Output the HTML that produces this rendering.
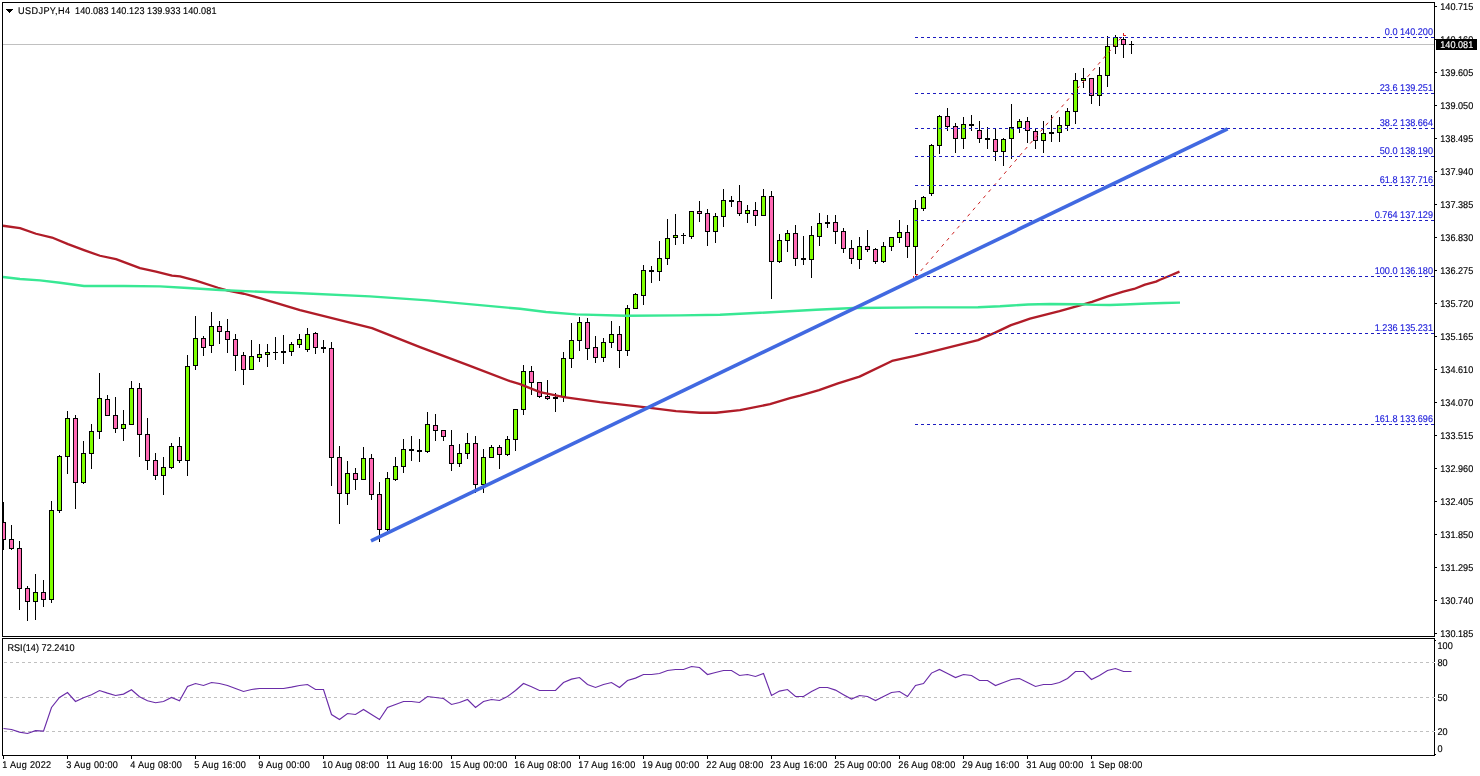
<!DOCTYPE html>
<html><head><meta charset="utf-8"><title>USDJPY H4</title>
<style>
html,body{margin:0;padding:0;background:#fff;}
body{width:1480px;height:776px;overflow:hidden;}
svg{display:block;}
text{font-family:"Liberation Sans", sans-serif;font-size:9.8px;fill:#000;text-rendering:geometricPrecision;stroke:#000;stroke-width:0.15px;}
.fib{fill:#2222dc;stroke:#2222dc;}
.ce{shape-rendering:crispEdges;}
</style></head><body>
<svg width="1480" height="776" viewBox="0 0 1480 776">
<rect x="0" y="0" width="1480" height="776" fill="#fff"/>

<g class="ce">
<rect x="3" y="44" width="1431" height="1" fill="#c0c0c0"/>
<line x1="4" y1="662.5" x2="1434" y2="662.5" stroke="#c0c0c0" stroke-width="1" stroke-dasharray="3 3"/>
<line x1="4" y1="697.5" x2="1434" y2="697.5" stroke="#c0c0c0" stroke-width="1" stroke-dasharray="3 3"/>
<line x1="4" y1="731.5" x2="1434" y2="731.5" stroke="#c0c0c0" stroke-width="1" stroke-dasharray="3 3"/>
</g>
<g class="ce">
<rect x="3" y="502" width="1" height="48" fill="#000"/>
<rect x="1" y="522" width="5" height="18" fill="#000"/>
<rect x="2" y="523" width="3" height="16" fill="#FF69B4"/>
<rect x="11" y="525" width="1" height="25" fill="#000"/>
<rect x="9" y="539" width="5" height="10" fill="#000"/>
<rect x="10" y="540" width="3" height="8" fill="#FF69B4"/>
<rect x="19" y="541" width="1" height="69" fill="#000"/>
<rect x="17" y="548" width="5" height="41" fill="#000"/>
<rect x="18" y="549" width="3" height="39" fill="#FF69B4"/>
<rect x="27" y="586" width="1" height="35" fill="#000"/>
<rect x="25" y="588" width="5" height="14" fill="#000"/>
<rect x="26" y="589" width="3" height="12" fill="#FF69B4"/>
<rect x="35" y="574" width="1" height="46" fill="#000"/>
<rect x="33" y="592" width="5" height="10" fill="#000"/>
<rect x="34" y="593" width="3" height="8" fill="#7FFF00"/>
<rect x="43" y="580" width="1" height="27" fill="#000"/>
<rect x="41" y="592" width="5" height="8" fill="#000"/>
<rect x="42" y="593" width="3" height="6" fill="#FF69B4"/>
<rect x="51" y="501" width="1" height="102" fill="#000"/>
<rect x="49" y="510" width="5" height="90" fill="#000"/>
<rect x="50" y="511" width="3" height="88" fill="#7FFF00"/>
<rect x="59" y="455" width="1" height="58" fill="#000"/>
<rect x="57" y="456" width="5" height="55" fill="#000"/>
<rect x="58" y="457" width="3" height="53" fill="#7FFF00"/>
<rect x="67" y="411" width="1" height="63" fill="#000"/>
<rect x="65" y="418" width="5" height="39" fill="#000"/>
<rect x="66" y="419" width="3" height="37" fill="#7FFF00"/>
<rect x="75" y="415" width="1" height="94" fill="#000"/>
<rect x="73" y="418" width="5" height="65" fill="#000"/>
<rect x="74" y="419" width="3" height="63" fill="#FF69B4"/>
<rect x="83" y="441" width="1" height="43" fill="#000"/>
<rect x="81" y="453" width="5" height="30" fill="#000"/>
<rect x="82" y="454" width="3" height="28" fill="#7FFF00"/>
<rect x="91" y="424" width="1" height="45" fill="#000"/>
<rect x="89" y="431" width="5" height="23" fill="#000"/>
<rect x="90" y="432" width="3" height="21" fill="#7FFF00"/>
<rect x="99" y="373" width="1" height="66" fill="#000"/>
<rect x="97" y="398" width="5" height="34" fill="#000"/>
<rect x="98" y="399" width="3" height="32" fill="#7FFF00"/>
<rect x="107" y="395" width="1" height="21" fill="#000"/>
<rect x="105" y="399" width="5" height="17" fill="#000"/>
<rect x="106" y="400" width="3" height="15" fill="#FF69B4"/>
<rect x="115" y="397" width="1" height="36" fill="#000"/>
<rect x="113" y="415" width="5" height="14" fill="#000"/>
<rect x="114" y="416" width="3" height="12" fill="#FF69B4"/>
<rect x="123" y="410" width="1" height="31" fill="#000"/>
<rect x="121" y="424" width="5" height="5" fill="#000"/>
<rect x="122" y="425" width="3" height="3" fill="#7FFF00"/>
<rect x="131" y="381" width="1" height="44" fill="#000"/>
<rect x="129" y="388" width="5" height="37" fill="#000"/>
<rect x="130" y="389" width="3" height="35" fill="#7FFF00"/>
<rect x="139" y="383" width="1" height="74" fill="#000"/>
<rect x="137" y="388" width="5" height="47" fill="#000"/>
<rect x="138" y="389" width="3" height="45" fill="#FF69B4"/>
<rect x="147" y="418" width="1" height="52" fill="#000"/>
<rect x="145" y="434" width="5" height="27" fill="#000"/>
<rect x="146" y="435" width="3" height="25" fill="#FF69B4"/>
<rect x="155" y="453" width="1" height="27" fill="#000"/>
<rect x="153" y="460" width="5" height="16" fill="#000"/>
<rect x="154" y="461" width="3" height="14" fill="#FF69B4"/>
<rect x="163" y="457" width="1" height="38" fill="#000"/>
<rect x="161" y="467" width="5" height="9" fill="#000"/>
<rect x="162" y="468" width="3" height="7" fill="#7FFF00"/>
<rect x="171" y="443" width="1" height="26" fill="#000"/>
<rect x="169" y="446" width="5" height="22" fill="#000"/>
<rect x="170" y="447" width="3" height="20" fill="#7FFF00"/>
<rect x="179" y="437" width="1" height="26" fill="#000"/>
<rect x="177" y="446" width="5" height="15" fill="#000"/>
<rect x="178" y="447" width="3" height="13" fill="#FF69B4"/>
<rect x="187" y="355" width="1" height="121" fill="#000"/>
<rect x="185" y="366" width="5" height="95" fill="#000"/>
<rect x="186" y="367" width="3" height="93" fill="#7FFF00"/>
<rect x="195" y="316" width="1" height="54" fill="#000"/>
<rect x="193" y="338" width="5" height="28" fill="#000"/>
<rect x="194" y="339" width="3" height="26" fill="#7FFF00"/>
<rect x="203" y="336" width="1" height="20" fill="#000"/>
<rect x="201" y="338" width="5" height="10" fill="#000"/>
<rect x="202" y="339" width="3" height="8" fill="#FF69B4"/>
<rect x="211" y="312" width="1" height="41" fill="#000"/>
<rect x="209" y="326" width="5" height="20" fill="#000"/>
<rect x="210" y="327" width="3" height="18" fill="#7FFF00"/>
<rect x="219" y="321" width="1" height="23" fill="#000"/>
<rect x="217" y="326" width="5" height="6" fill="#000"/>
<rect x="218" y="327" width="3" height="4" fill="#FF69B4"/>
<rect x="227" y="319" width="1" height="34" fill="#000"/>
<rect x="225" y="331" width="5" height="9" fill="#000"/>
<rect x="226" y="332" width="3" height="7" fill="#FF69B4"/>
<rect x="235" y="334" width="1" height="37" fill="#000"/>
<rect x="233" y="339" width="5" height="17" fill="#000"/>
<rect x="234" y="340" width="3" height="15" fill="#FF69B4"/>
<rect x="243" y="352" width="1" height="33" fill="#000"/>
<rect x="241" y="355" width="5" height="15" fill="#000"/>
<rect x="242" y="356" width="3" height="13" fill="#FF69B4"/>
<rect x="251" y="340" width="1" height="30" fill="#000"/>
<rect x="249" y="356" width="5" height="14" fill="#000"/>
<rect x="250" y="357" width="3" height="12" fill="#7FFF00"/>
<rect x="259" y="344" width="1" height="18" fill="#000"/>
<rect x="257" y="354" width="5" height="4" fill="#000"/>
<rect x="258" y="355" width="3" height="2" fill="#7FFF00"/>
<rect x="267" y="344" width="1" height="23" fill="#000"/>
<rect x="265" y="352" width="5" height="3" fill="#000"/>
<rect x="266" y="353" width="3" height="1" fill="#7FFF00"/>
<rect x="275" y="337" width="1" height="23" fill="#000"/>
<rect x="273" y="352" width="5" height="1" fill="#000"/>
<rect x="283" y="335" width="1" height="29" fill="#000"/>
<rect x="281" y="351" width="5" height="2" fill="#000"/>
<rect x="291" y="342" width="1" height="14" fill="#000"/>
<rect x="289" y="344" width="5" height="8" fill="#000"/>
<rect x="290" y="345" width="3" height="6" fill="#7FFF00"/>
<rect x="299" y="334" width="1" height="14" fill="#000"/>
<rect x="297" y="339" width="5" height="6" fill="#000"/>
<rect x="298" y="340" width="3" height="4" fill="#7FFF00"/>
<rect x="307" y="328" width="1" height="24" fill="#000"/>
<rect x="305" y="334" width="5" height="16" fill="#000"/>
<rect x="306" y="335" width="3" height="14" fill="#7FFF00"/>
<rect x="315" y="332" width="1" height="22" fill="#000"/>
<rect x="313" y="333" width="5" height="15" fill="#000"/>
<rect x="314" y="334" width="3" height="13" fill="#FF69B4"/>
<rect x="323" y="340" width="1" height="13" fill="#000"/>
<rect x="321" y="347" width="5" height="2" fill="#000"/>
<rect x="331" y="342" width="1" height="144" fill="#000"/>
<rect x="329" y="348" width="5" height="110" fill="#000"/>
<rect x="330" y="349" width="3" height="108" fill="#FF69B4"/>
<rect x="339" y="446" width="1" height="78" fill="#000"/>
<rect x="337" y="457" width="5" height="37" fill="#000"/>
<rect x="338" y="458" width="3" height="35" fill="#FF69B4"/>
<rect x="347" y="461" width="1" height="44" fill="#000"/>
<rect x="345" y="473" width="5" height="21" fill="#000"/>
<rect x="346" y="474" width="3" height="19" fill="#7FFF00"/>
<rect x="355" y="468" width="1" height="22" fill="#000"/>
<rect x="353" y="473" width="5" height="7" fill="#000"/>
<rect x="354" y="474" width="3" height="5" fill="#FF69B4"/>
<rect x="363" y="447" width="1" height="33" fill="#000"/>
<rect x="361" y="458" width="5" height="22" fill="#000"/>
<rect x="362" y="459" width="3" height="20" fill="#7FFF00"/>
<rect x="371" y="454" width="1" height="46" fill="#000"/>
<rect x="369" y="458" width="5" height="37" fill="#000"/>
<rect x="370" y="459" width="3" height="35" fill="#FF69B4"/>
<rect x="379" y="482" width="1" height="60" fill="#000"/>
<rect x="377" y="494" width="5" height="36" fill="#000"/>
<rect x="378" y="495" width="3" height="34" fill="#FF69B4"/>
<rect x="387" y="472" width="1" height="59" fill="#000"/>
<rect x="385" y="478" width="5" height="52" fill="#000"/>
<rect x="386" y="479" width="3" height="50" fill="#7FFF00"/>
<rect x="395" y="457" width="1" height="24" fill="#000"/>
<rect x="393" y="466" width="5" height="14" fill="#000"/>
<rect x="394" y="467" width="3" height="12" fill="#7FFF00"/>
<rect x="403" y="439" width="1" height="34" fill="#000"/>
<rect x="401" y="449" width="5" height="18" fill="#000"/>
<rect x="402" y="450" width="3" height="16" fill="#7FFF00"/>
<rect x="411" y="436" width="1" height="25" fill="#000"/>
<rect x="409" y="449" width="5" height="2" fill="#000"/>
<rect x="419" y="439" width="1" height="23" fill="#000"/>
<rect x="417" y="450" width="5" height="2" fill="#000"/>
<rect x="427" y="412" width="1" height="41" fill="#000"/>
<rect x="425" y="424" width="5" height="28" fill="#000"/>
<rect x="426" y="425" width="3" height="26" fill="#7FFF00"/>
<rect x="435" y="414" width="1" height="27" fill="#000"/>
<rect x="433" y="425" width="5" height="6" fill="#000"/>
<rect x="434" y="426" width="3" height="4" fill="#FF69B4"/>
<rect x="443" y="430" width="1" height="11" fill="#000"/>
<rect x="441" y="430" width="5" height="7" fill="#000"/>
<rect x="442" y="431" width="3" height="5" fill="#FF69B4"/>
<rect x="451" y="430" width="1" height="41" fill="#000"/>
<rect x="449" y="445" width="5" height="19" fill="#000"/>
<rect x="450" y="446" width="3" height="17" fill="#FF69B4"/>
<rect x="459" y="444" width="1" height="23" fill="#000"/>
<rect x="457" y="453" width="5" height="11" fill="#000"/>
<rect x="458" y="454" width="3" height="9" fill="#7FFF00"/>
<rect x="467" y="433" width="1" height="26" fill="#000"/>
<rect x="465" y="443" width="5" height="11" fill="#000"/>
<rect x="466" y="444" width="3" height="9" fill="#7FFF00"/>
<rect x="475" y="436" width="1" height="57" fill="#000"/>
<rect x="473" y="443" width="5" height="42" fill="#000"/>
<rect x="474" y="444" width="3" height="40" fill="#FF69B4"/>
<rect x="483" y="449" width="1" height="44" fill="#000"/>
<rect x="481" y="457" width="5" height="28" fill="#000"/>
<rect x="482" y="458" width="3" height="26" fill="#7FFF00"/>
<rect x="491" y="445" width="1" height="13" fill="#000"/>
<rect x="489" y="447" width="5" height="11" fill="#000"/>
<rect x="490" y="448" width="3" height="9" fill="#7FFF00"/>
<rect x="499" y="445" width="1" height="24" fill="#000"/>
<rect x="497" y="447" width="5" height="8" fill="#000"/>
<rect x="498" y="448" width="3" height="6" fill="#FF69B4"/>
<rect x="507" y="436" width="1" height="20" fill="#000"/>
<rect x="505" y="439" width="5" height="16" fill="#000"/>
<rect x="506" y="440" width="3" height="14" fill="#7FFF00"/>
<rect x="515" y="409" width="1" height="42" fill="#000"/>
<rect x="513" y="409" width="5" height="31" fill="#000"/>
<rect x="514" y="410" width="3" height="29" fill="#7FFF00"/>
<rect x="523" y="365" width="1" height="50" fill="#000"/>
<rect x="521" y="371" width="5" height="39" fill="#000"/>
<rect x="522" y="372" width="3" height="37" fill="#7FFF00"/>
<rect x="531" y="366" width="1" height="29" fill="#000"/>
<rect x="529" y="371" width="5" height="12" fill="#000"/>
<rect x="530" y="372" width="3" height="10" fill="#FF69B4"/>
<rect x="539" y="382" width="1" height="16" fill="#000"/>
<rect x="537" y="382" width="5" height="15" fill="#000"/>
<rect x="538" y="383" width="3" height="13" fill="#FF69B4"/>
<rect x="547" y="380" width="1" height="20" fill="#000"/>
<rect x="545" y="396" width="5" height="3" fill="#000"/>
<rect x="546" y="397" width="3" height="1" fill="#FF69B4"/>
<rect x="555" y="393" width="1" height="19" fill="#000"/>
<rect x="553" y="397" width="5" height="2" fill="#000"/>
<rect x="563" y="352" width="1" height="50" fill="#000"/>
<rect x="561" y="358" width="5" height="39" fill="#000"/>
<rect x="562" y="359" width="3" height="37" fill="#7FFF00"/>
<rect x="571" y="323" width="1" height="45" fill="#000"/>
<rect x="569" y="340" width="5" height="19" fill="#000"/>
<rect x="570" y="341" width="3" height="17" fill="#7FFF00"/>
<rect x="579" y="317" width="1" height="34" fill="#000"/>
<rect x="577" y="322" width="5" height="19" fill="#000"/>
<rect x="578" y="323" width="3" height="17" fill="#7FFF00"/>
<rect x="587" y="318" width="1" height="42" fill="#000"/>
<rect x="585" y="322" width="5" height="27" fill="#000"/>
<rect x="586" y="323" width="3" height="25" fill="#FF69B4"/>
<rect x="595" y="336" width="1" height="27" fill="#000"/>
<rect x="593" y="347" width="5" height="11" fill="#000"/>
<rect x="594" y="348" width="3" height="9" fill="#FF69B4"/>
<rect x="603" y="338" width="1" height="24" fill="#000"/>
<rect x="601" y="342" width="5" height="16" fill="#000"/>
<rect x="602" y="343" width="3" height="14" fill="#7FFF00"/>
<rect x="611" y="321" width="1" height="27" fill="#000"/>
<rect x="609" y="334" width="5" height="9" fill="#000"/>
<rect x="610" y="335" width="3" height="7" fill="#7FFF00"/>
<rect x="619" y="326" width="1" height="42" fill="#000"/>
<rect x="617" y="334" width="5" height="17" fill="#000"/>
<rect x="618" y="335" width="3" height="15" fill="#FF69B4"/>
<rect x="627" y="305" width="1" height="51" fill="#000"/>
<rect x="625" y="308" width="5" height="43" fill="#000"/>
<rect x="626" y="309" width="3" height="41" fill="#7FFF00"/>
<rect x="635" y="293" width="1" height="16" fill="#000"/>
<rect x="633" y="294" width="5" height="15" fill="#000"/>
<rect x="634" y="295" width="3" height="13" fill="#7FFF00"/>
<rect x="643" y="265" width="1" height="40" fill="#000"/>
<rect x="641" y="270" width="5" height="26" fill="#000"/>
<rect x="642" y="271" width="3" height="24" fill="#7FFF00"/>
<rect x="651" y="266" width="1" height="17" fill="#000"/>
<rect x="649" y="270" width="5" height="2" fill="#000"/>
<rect x="659" y="241" width="1" height="40" fill="#000"/>
<rect x="657" y="258" width="5" height="14" fill="#000"/>
<rect x="658" y="259" width="3" height="12" fill="#7FFF00"/>
<rect x="667" y="219" width="1" height="46" fill="#000"/>
<rect x="665" y="238" width="5" height="21" fill="#000"/>
<rect x="666" y="239" width="3" height="19" fill="#7FFF00"/>
<rect x="675" y="214" width="1" height="31" fill="#000"/>
<rect x="673" y="235" width="5" height="3" fill="#000"/>
<rect x="674" y="236" width="3" height="1" fill="#7FFF00"/>
<rect x="683" y="233" width="1" height="11" fill="#000"/>
<rect x="681" y="235" width="5" height="1" fill="#000"/>
<rect x="691" y="211" width="1" height="28" fill="#000"/>
<rect x="689" y="211" width="5" height="26" fill="#000"/>
<rect x="690" y="212" width="3" height="24" fill="#7FFF00"/>
<rect x="699" y="201" width="1" height="21" fill="#000"/>
<rect x="697" y="211" width="5" height="3" fill="#000"/>
<rect x="698" y="212" width="3" height="1" fill="#FF69B4"/>
<rect x="707" y="209" width="1" height="37" fill="#000"/>
<rect x="705" y="213" width="5" height="19" fill="#000"/>
<rect x="706" y="214" width="3" height="17" fill="#FF69B4"/>
<rect x="715" y="213" width="1" height="30" fill="#000"/>
<rect x="713" y="216" width="5" height="16" fill="#000"/>
<rect x="714" y="217" width="3" height="14" fill="#7FFF00"/>
<rect x="723" y="189" width="1" height="38" fill="#000"/>
<rect x="721" y="200" width="5" height="17" fill="#000"/>
<rect x="722" y="201" width="3" height="15" fill="#7FFF00"/>
<rect x="731" y="196" width="1" height="11" fill="#000"/>
<rect x="729" y="200" width="5" height="2" fill="#000"/>
<rect x="739" y="185" width="1" height="31" fill="#000"/>
<rect x="737" y="201" width="5" height="13" fill="#000"/>
<rect x="738" y="202" width="3" height="11" fill="#FF69B4"/>
<rect x="747" y="205" width="1" height="18" fill="#000"/>
<rect x="745" y="210" width="5" height="4" fill="#000"/>
<rect x="746" y="211" width="3" height="2" fill="#7FFF00"/>
<rect x="755" y="202" width="1" height="24" fill="#000"/>
<rect x="753" y="210" width="5" height="6" fill="#000"/>
<rect x="754" y="211" width="3" height="4" fill="#FF69B4"/>
<rect x="763" y="189" width="1" height="27" fill="#000"/>
<rect x="761" y="196" width="5" height="20" fill="#000"/>
<rect x="762" y="197" width="3" height="18" fill="#7FFF00"/>
<rect x="771" y="191" width="1" height="108" fill="#000"/>
<rect x="769" y="196" width="5" height="66" fill="#000"/>
<rect x="770" y="197" width="3" height="64" fill="#FF69B4"/>
<rect x="779" y="234" width="1" height="29" fill="#000"/>
<rect x="777" y="240" width="5" height="22" fill="#000"/>
<rect x="778" y="241" width="3" height="20" fill="#7FFF00"/>
<rect x="787" y="230" width="1" height="22" fill="#000"/>
<rect x="785" y="233" width="5" height="8" fill="#000"/>
<rect x="786" y="234" width="3" height="6" fill="#7FFF00"/>
<rect x="795" y="225" width="1" height="41" fill="#000"/>
<rect x="793" y="233" width="5" height="26" fill="#000"/>
<rect x="794" y="234" width="3" height="24" fill="#FF69B4"/>
<rect x="803" y="236" width="1" height="29" fill="#000"/>
<rect x="801" y="258" width="5" height="2" fill="#000"/>
<rect x="811" y="226" width="1" height="52" fill="#000"/>
<rect x="809" y="235" width="5" height="25" fill="#000"/>
<rect x="810" y="236" width="3" height="23" fill="#7FFF00"/>
<rect x="819" y="213" width="1" height="33" fill="#000"/>
<rect x="817" y="223" width="5" height="14" fill="#000"/>
<rect x="818" y="224" width="3" height="12" fill="#7FFF00"/>
<rect x="827" y="215" width="1" height="13" fill="#000"/>
<rect x="825" y="222" width="5" height="2" fill="#000"/>
<rect x="835" y="215" width="1" height="29" fill="#000"/>
<rect x="833" y="222" width="5" height="10" fill="#000"/>
<rect x="834" y="223" width="3" height="8" fill="#FF69B4"/>
<rect x="843" y="228" width="1" height="25" fill="#000"/>
<rect x="841" y="231" width="5" height="18" fill="#000"/>
<rect x="842" y="232" width="3" height="16" fill="#FF69B4"/>
<rect x="851" y="240" width="1" height="24" fill="#000"/>
<rect x="849" y="248" width="5" height="11" fill="#000"/>
<rect x="850" y="249" width="3" height="9" fill="#FF69B4"/>
<rect x="859" y="237" width="1" height="32" fill="#000"/>
<rect x="857" y="246" width="5" height="14" fill="#000"/>
<rect x="858" y="247" width="3" height="12" fill="#7FFF00"/>
<rect x="867" y="230" width="1" height="22" fill="#000"/>
<rect x="865" y="246" width="5" height="4" fill="#000"/>
<rect x="866" y="247" width="3" height="2" fill="#FF69B4"/>
<rect x="875" y="248" width="1" height="16" fill="#000"/>
<rect x="873" y="249" width="5" height="13" fill="#000"/>
<rect x="874" y="250" width="3" height="11" fill="#FF69B4"/>
<rect x="883" y="242" width="1" height="21" fill="#000"/>
<rect x="881" y="246" width="5" height="16" fill="#000"/>
<rect x="882" y="247" width="3" height="14" fill="#7FFF00"/>
<rect x="891" y="237" width="1" height="14" fill="#000"/>
<rect x="889" y="237" width="5" height="10" fill="#000"/>
<rect x="890" y="238" width="3" height="8" fill="#7FFF00"/>
<rect x="899" y="220" width="1" height="23" fill="#000"/>
<rect x="897" y="232" width="5" height="6" fill="#000"/>
<rect x="898" y="233" width="3" height="4" fill="#7FFF00"/>
<rect x="907" y="225" width="1" height="33" fill="#000"/>
<rect x="905" y="232" width="5" height="15" fill="#000"/>
<rect x="906" y="233" width="3" height="13" fill="#FF69B4"/>
<rect x="915" y="200" width="1" height="74" fill="#000"/>
<rect x="913" y="208" width="5" height="39" fill="#000"/>
<rect x="914" y="209" width="3" height="37" fill="#7FFF00"/>
<rect x="923" y="196" width="1" height="15" fill="#000"/>
<rect x="921" y="197" width="5" height="12" fill="#000"/>
<rect x="922" y="198" width="3" height="10" fill="#7FFF00"/>
<rect x="931" y="144" width="1" height="52" fill="#000"/>
<rect x="929" y="145" width="5" height="49" fill="#000"/>
<rect x="930" y="146" width="3" height="47" fill="#7FFF00"/>
<rect x="939" y="115" width="1" height="39" fill="#000"/>
<rect x="937" y="116" width="5" height="30" fill="#000"/>
<rect x="938" y="117" width="3" height="28" fill="#7FFF00"/>
<rect x="947" y="108" width="1" height="23" fill="#000"/>
<rect x="945" y="116" width="5" height="11" fill="#000"/>
<rect x="946" y="117" width="3" height="9" fill="#FF69B4"/>
<rect x="955" y="123" width="1" height="30" fill="#000"/>
<rect x="953" y="126" width="5" height="13" fill="#000"/>
<rect x="954" y="127" width="3" height="11" fill="#FF69B4"/>
<rect x="963" y="117" width="1" height="32" fill="#000"/>
<rect x="961" y="124" width="5" height="15" fill="#000"/>
<rect x="962" y="125" width="3" height="13" fill="#7FFF00"/>
<rect x="971" y="115" width="1" height="16" fill="#000"/>
<rect x="969" y="124" width="5" height="2" fill="#000"/>
<rect x="979" y="121" width="1" height="22" fill="#000"/>
<rect x="977" y="130" width="5" height="9" fill="#000"/>
<rect x="978" y="131" width="3" height="7" fill="#FF69B4"/>
<rect x="987" y="127" width="1" height="22" fill="#000"/>
<rect x="985" y="138" width="5" height="2" fill="#000"/>
<rect x="995" y="128" width="1" height="33" fill="#000"/>
<rect x="993" y="139" width="5" height="13" fill="#000"/>
<rect x="994" y="140" width="3" height="11" fill="#FF69B4"/>
<rect x="1003" y="138" width="1" height="28" fill="#000"/>
<rect x="1001" y="139" width="5" height="13" fill="#000"/>
<rect x="1002" y="140" width="3" height="11" fill="#7FFF00"/>
<rect x="1011" y="104" width="1" height="55" fill="#000"/>
<rect x="1009" y="127" width="5" height="12" fill="#000"/>
<rect x="1010" y="128" width="3" height="10" fill="#7FFF00"/>
<rect x="1019" y="119" width="1" height="14" fill="#000"/>
<rect x="1017" y="121" width="5" height="7" fill="#000"/>
<rect x="1018" y="122" width="3" height="5" fill="#7FFF00"/>
<rect x="1027" y="117" width="1" height="26" fill="#000"/>
<rect x="1025" y="121" width="5" height="10" fill="#000"/>
<rect x="1026" y="122" width="3" height="8" fill="#FF69B4"/>
<rect x="1035" y="129" width="1" height="20" fill="#000"/>
<rect x="1033" y="131" width="5" height="10" fill="#000"/>
<rect x="1034" y="132" width="3" height="8" fill="#FF69B4"/>
<rect x="1043" y="121" width="1" height="32" fill="#000"/>
<rect x="1041" y="133" width="5" height="8" fill="#000"/>
<rect x="1042" y="134" width="3" height="6" fill="#7FFF00"/>
<rect x="1051" y="115" width="1" height="27" fill="#000"/>
<rect x="1049" y="132" width="5" height="2" fill="#000"/>
<rect x="1059" y="117" width="1" height="25" fill="#000"/>
<rect x="1057" y="125" width="5" height="8" fill="#000"/>
<rect x="1058" y="126" width="3" height="6" fill="#7FFF00"/>
<rect x="1067" y="108" width="1" height="23" fill="#000"/>
<rect x="1065" y="111" width="5" height="15" fill="#000"/>
<rect x="1066" y="112" width="3" height="13" fill="#7FFF00"/>
<rect x="1075" y="73" width="1" height="51" fill="#000"/>
<rect x="1073" y="80" width="5" height="32" fill="#000"/>
<rect x="1074" y="81" width="3" height="30" fill="#7FFF00"/>
<rect x="1083" y="68" width="1" height="20" fill="#000"/>
<rect x="1081" y="78" width="5" height="3" fill="#000"/>
<rect x="1082" y="79" width="3" height="1" fill="#7FFF00"/>
<rect x="1091" y="78" width="1" height="26" fill="#000"/>
<rect x="1089" y="78" width="5" height="18" fill="#000"/>
<rect x="1090" y="79" width="3" height="16" fill="#FF69B4"/>
<rect x="1099" y="67" width="1" height="39" fill="#000"/>
<rect x="1097" y="75" width="5" height="21" fill="#000"/>
<rect x="1098" y="76" width="3" height="19" fill="#7FFF00"/>
<rect x="1107" y="36" width="1" height="51" fill="#000"/>
<rect x="1105" y="46" width="5" height="30" fill="#000"/>
<rect x="1106" y="47" width="3" height="28" fill="#7FFF00"/>
<rect x="1115" y="35" width="1" height="19" fill="#000"/>
<rect x="1113" y="37" width="5" height="10" fill="#000"/>
<rect x="1114" y="38" width="3" height="8" fill="#7FFF00"/>
<rect x="1123" y="37" width="1" height="21" fill="#000"/>
<rect x="1121" y="39" width="5" height="6" fill="#000"/>
<rect x="1122" y="40" width="3" height="4" fill="#FF69B4"/>
<rect x="1131" y="41" width="1" height="13" fill="#000"/>
<rect x="1129" y="44" width="5" height="1" fill="#000"/>
</g>
<polyline points="3,225.75 20,228.15 36,233.75 52,237.55 68,244.15 84,250.15 100,255.75 116,259.15 140,268.15 156,271.54999999999995 172,275.54999999999995 180,276.34999999999997 196,280.54999999999995 218,287.75 228,290.54999999999995 244,293.75 260,298.15 280,304.15 300,310.15 372,328.15 420,347.15 468,365.15 510,381.15 520,384.15 540,392.15 564,397.15 600,402.15 644,407.15 676,411.15 700,412.75 716,412.75 740,410.15 770,404.15 790,398.15 800,395.54999999999995 819,390.15 838,383.34999999999997 859.5,376.65 892,360.95 916,355.54999999999995 951,346.95 978,340.15 994.6,332.84999999999997 1011,325.15 1030,318.54999999999995 1059.5,311.15 1081,305.15 1092,301.95 1107,296.54999999999995 1123.3,291.65 1134,288.95 1145,284.65 1156,281.65 1160,279.75 1168,276.45 1179.5,271.65" fill="none" stroke="#b01c28" stroke-width="2.3" stroke-linejoin="round"/>
<polyline points="3,277.0 20,279.0 40,280.4 60,282.79999999999995 84,286.0 124,286.0 160,286.4 188,288.0 220,290.0 260,291.79999999999995 296,293.0 370,296.4 428,300.4 520,308.79999999999995 546,312.0 576,314.4 626,315.79999999999995 680,315.4 720,314.79999999999995 760,312.79999999999995 816,309.79999999999995 854,308.0 924,307.4 978,307.2 1000,306.29999999999995 1012,305.5 1028,304.5 1050,304.0 1080,304.2 1095,304.9 1110,305.0 1124,304.5 1136,304.0 1148,303.5 1164,303.0 1180,302.59999999999997" fill="none" stroke="#38e894" stroke-width="2.4" stroke-linejoin="round"/>
<line x1="915.5" y1="277" x2="1123.5" y2="35" stroke="#cc2020" stroke-width="1" stroke-dasharray="3.4 4.6"/>
<g class="ce">
<line x1="915" y1="37.5" x2="1434" y2="37.5" stroke="#1c1cc0" stroke-width="1" stroke-dasharray="3 3"/>
<line x1="915" y1="93.5" x2="1434" y2="93.5" stroke="#1c1cc0" stroke-width="1" stroke-dasharray="3 3"/>
<line x1="915" y1="128.5" x2="1434" y2="128.5" stroke="#1c1cc0" stroke-width="1" stroke-dasharray="3 3"/>
<line x1="915" y1="156.5" x2="1434" y2="156.5" stroke="#1c1cc0" stroke-width="1" stroke-dasharray="3 3"/>
<line x1="915" y1="185.5" x2="1434" y2="185.5" stroke="#1c1cc0" stroke-width="1" stroke-dasharray="3 3"/>
<line x1="915" y1="220.5" x2="1434" y2="220.5" stroke="#1c1cc0" stroke-width="1" stroke-dasharray="3 3"/>
<line x1="915" y1="276.5" x2="1434" y2="276.5" stroke="#1c1cc0" stroke-width="1" stroke-dasharray="3 3"/>
<line x1="915" y1="333.5" x2="1434" y2="333.5" stroke="#1c1cc0" stroke-width="1" stroke-dasharray="3 3"/>
<line x1="915" y1="424.5" x2="1434" y2="424.5" stroke="#1c1cc0" stroke-width="1" stroke-dasharray="3 3"/>
</g>
<g class="ce">
<rect x="1123" y="33" width="1" height="3" fill="#dd2222"/>
<rect x="1123" y="35" width="3" height="1" fill="#dd2222"/>
<rect x="915" y="274" width="3" height="1" fill="#dd2222"/>
<rect x="913" y="276" width="1" height="2" fill="#dd2222"/>
</g>
<line x1="371" y1="540.9" x2="1227.6" y2="128.8" stroke="#4169e1" stroke-width="3.6"/>
<polyline points="3.5,728.5 11.5,729.5 19.5,732.1 27.5,733.5 35.5,730.7 43.5,731.1 51.5,707.5 59.5,697.5 67.5,692.5 75.5,701.5 83.5,697.7 91.5,694.7 99.5,690.5 107.5,693.1 115.5,695.5 123.5,694.1 131.5,689.7 139.5,696.7 147.5,700.7 155.5,702.7 163.5,701.5 171.5,697.5 179.5,700.7 187.5,686.5 195.5,683.5 203.5,685.5 211.5,682.5 219.5,683.5 227.5,685.5 235.5,688.5 243.5,691.5 251.5,689.5 259.5,688.5 267.5,688.5 275.5,688.5 283.5,688.5 291.5,687.1 299.5,685.5 307.5,684.5 315.5,689.5 323.5,689.5 331.5,714.5 339.5,719.5 347.5,713.5 355.5,714.5 363.5,709.5 371.5,714.5 379.5,719.5 387.5,707.5 395.5,704.5 403.5,701.5 411.5,701.5 419.5,702.5 427.5,696.5 435.5,697.5 443.5,698.5 451.5,704.5 459.5,702.5 467.5,699.5 475.5,707.5 483.5,701.5 491.5,699.5 499.5,700.5 507.5,696.5 515.5,690.5 523.5,683.5 531.5,686.7 539.5,690.5 547.5,690.5 555.5,690.5 563.5,682.5 571.5,679.1 579.5,677.5 587.5,684.5 595.5,687.5 603.5,684.5 611.5,682.5 619.5,687.5 627.5,680.5 635.5,678.1 643.5,674.5 651.5,674.5 659.5,673.5 667.5,670.5 675.5,669.5 683.5,669.5 691.5,666.5 699.5,667.5 707.5,674.5 715.5,672.5 723.5,670.5 731.5,670.5 739.5,675.5 747.5,674.5 755.5,676.5 763.5,673.5 771.5,695.5 779.5,691.1 787.5,689.5 795.5,696.5 803.5,696.5 811.5,691.5 819.5,687.5 827.5,687.5 835.5,690.1 843.5,694.7 851.5,699.1 859.5,695.5 867.5,696.5 875.5,700.5 883.5,696.5 891.5,692.5 899.5,691.5 907.5,696.5 915.5,685.5 923.5,683.5 931.5,673.1 939.5,669.5 947.5,673.5 955.5,677.5 963.5,674.5 971.5,675.5 979.5,680.5 987.5,680.5 995.5,685.5 1003.5,682.5 1011.5,679.5 1019.5,678.5 1027.5,682.5 1035.5,686.5 1043.5,684.5 1051.5,684.5 1059.5,682.5 1067.5,678.5 1075.5,671.5 1083.5,671.5 1091.5,679.5 1099.5,675.5 1107.5,670.5 1115.5,668.5 1123.5,671.5 1131.5,671.5" fill="none" stroke="#6a2ca8" stroke-width="1.15" />
<g class="ce">
<rect x="0" y="0" width="2" height="776" fill="#fff"/>
<rect x="2" y="2" width="1433" height="1" fill="#000"/>
<rect x="2" y="636" width="1433" height="1" fill="#000"/>
<rect x="2" y="2" width="1" height="635" fill="#000"/>
<rect x="1434" y="2" width="1" height="635" fill="#000"/>
<rect x="1434" y="638" width="1" height="118" fill="#000"/>
<rect x="2" y="638" width="1433" height="1" fill="#000"/>
<rect x="2" y="755" width="1433" height="1" fill="#000"/>
<rect x="2" y="638" width="1" height="118" fill="#000"/>
<rect x="1435" y="6" width="2" height="1" fill="#000"/>
<rect x="1435" y="39" width="2" height="1" fill="#000"/>
<rect x="1435" y="72" width="2" height="1" fill="#000"/>
<rect x="1435" y="105" width="2" height="1" fill="#000"/>
<rect x="1435" y="138" width="2" height="1" fill="#000"/>
<rect x="1435" y="171" width="2" height="1" fill="#000"/>
<rect x="1435" y="204" width="2" height="1" fill="#000"/>
<rect x="1435" y="237" width="2" height="1" fill="#000"/>
<rect x="1435" y="270" width="2" height="1" fill="#000"/>
<rect x="1435" y="303" width="2" height="1" fill="#000"/>
<rect x="1435" y="336" width="2" height="1" fill="#000"/>
<rect x="1435" y="369" width="2" height="1" fill="#000"/>
<rect x="1435" y="402" width="2" height="1" fill="#000"/>
<rect x="1435" y="435" width="2" height="1" fill="#000"/>
<rect x="1435" y="468" width="2" height="1" fill="#000"/>
<rect x="1435" y="501" width="2" height="1" fill="#000"/>
<rect x="1435" y="534" width="2" height="1" fill="#000"/>
<rect x="1435" y="567" width="2" height="1" fill="#000"/>
<rect x="1435" y="600" width="2" height="1" fill="#000"/>
<rect x="1435" y="633" width="2" height="1" fill="#000"/>
<rect x="1435" y="640" width="1" height="1" fill="#000"/>
<rect x="1435" y="754" width="1" height="1" fill="#000"/>
<rect x="1434" y="662" width="1" height="1" fill="#e8e8e8"/>
<rect x="1434" y="697" width="1" height="1" fill="#e8e8e8"/>
<rect x="1434" y="731" width="1" height="1" fill="#e8e8e8"/>
<rect x="3" y="756" width="1" height="3" fill="#000"/>
<rect x="67" y="756" width="1" height="3" fill="#000"/>
<rect x="131" y="756" width="1" height="3" fill="#000"/>
<rect x="195" y="756" width="1" height="3" fill="#000"/>
<rect x="259" y="756" width="1" height="3" fill="#000"/>
<rect x="323" y="756" width="1" height="3" fill="#000"/>
<rect x="387" y="756" width="1" height="3" fill="#000"/>
<rect x="451" y="756" width="1" height="3" fill="#000"/>
<rect x="515" y="756" width="1" height="3" fill="#000"/>
<rect x="579" y="756" width="1" height="3" fill="#000"/>
<rect x="643" y="756" width="1" height="3" fill="#000"/>
<rect x="707" y="756" width="1" height="3" fill="#000"/>
<rect x="771" y="756" width="1" height="3" fill="#000"/>
<rect x="835" y="756" width="1" height="3" fill="#000"/>
<rect x="899" y="756" width="1" height="3" fill="#000"/>
<rect x="963" y="756" width="1" height="3" fill="#000"/>
<rect x="1027" y="756" width="1" height="3" fill="#000"/>
<rect x="1091" y="756" width="1" height="3" fill="#000"/>
<rect x="6" y="9" width="7" height="1" fill="#000"/>
<rect x="7" y="10" width="5" height="1" fill="#000"/>
<rect x="8" y="11" width="3" height="1" fill="#000"/>
<rect x="9" y="12" width="1" height="1" fill="#000"/>
</g>
<text transform="translate(18.1 14) scale(0.93 1)" style="letter-spacing:0.4px;">USDJPY,H4</text>
<text transform="translate(75.0 14) scale(0.93 1)" style="letter-spacing:0.1px;">140.083</text>
<text transform="translate(111.0 14) scale(0.93 1)" style="letter-spacing:0.1px;">140.123</text>
<text transform="translate(147.0 14) scale(0.93 1)" style="letter-spacing:0.1px;">139.933</text>
<text transform="translate(183.0 14) scale(0.93 1)" style="letter-spacing:0.1px;">140.081</text>
<text transform="translate(7.4 651) scale(0.93 1)" style="letter-spacing:0.03px;">RSI(14) 72.2410</text>
<text transform="translate(1440.3 10) scale(0.93 1)">140.715</text>
<text transform="translate(1440.3 43) scale(0.93 1)">140.160</text>
<text transform="translate(1440.3 76) scale(0.93 1)">139.605</text>
<text transform="translate(1440.3 109) scale(0.93 1)">139.050</text>
<text transform="translate(1440.3 142) scale(0.93 1)">138.495</text>
<text transform="translate(1440.3 175) scale(0.93 1)">137.940</text>
<text transform="translate(1440.3 208) scale(0.93 1)">137.385</text>
<text transform="translate(1440.3 241) scale(0.93 1)">136.830</text>
<text transform="translate(1440.3 274) scale(0.93 1)">136.275</text>
<text transform="translate(1440.3 307) scale(0.93 1)">135.720</text>
<text transform="translate(1440.3 340) scale(0.93 1)">135.165</text>
<text transform="translate(1440.3 373) scale(0.93 1)">134.610</text>
<text transform="translate(1440.3 406) scale(0.93 1)">134.070</text>
<text transform="translate(1440.3 439) scale(0.93 1)">133.515</text>
<text transform="translate(1440.3 472) scale(0.93 1)">132.960</text>
<text transform="translate(1440.3 505) scale(0.93 1)">132.405</text>
<text transform="translate(1440.3 538) scale(0.93 1)">131.850</text>
<text transform="translate(1440.3 571) scale(0.93 1)">131.295</text>
<text transform="translate(1440.3 604) scale(0.93 1)">130.740</text>
<text transform="translate(1440.3 637) scale(0.93 1)">130.185</text>
<rect x="1436" y="39" width="41" height="11" fill="#000"/>
<text transform="translate(1440.3 48) scale(0.93 1)" style="fill:#fff;stroke:#fff">140.081</text>
<text transform="translate(1437.5 649) scale(0.93 1)">100</text>
<text transform="translate(1437.5 666) scale(0.93 1)">80</text>
<text transform="translate(1437.5 701) scale(0.93 1)">50</text>
<text transform="translate(1437.5 735) scale(0.93 1)">20</text>
<text transform="translate(1437.5 752) scale(0.93 1)">0</text>
<text transform="translate(1433 35) scale(0.93 1)" class="fib" text-anchor="end">0.0 140.200</text>
<text transform="translate(1433 91) scale(0.93 1)" class="fib" text-anchor="end">23.6 139.251</text>
<text transform="translate(1433 126) scale(0.93 1)" class="fib" text-anchor="end">38.2 138.664</text>
<text transform="translate(1433 154) scale(0.93 1)" class="fib" text-anchor="end">50.0 138.190</text>
<text transform="translate(1433 183) scale(0.93 1)" class="fib" text-anchor="end">61.8 137.716</text>
<text transform="translate(1433 218) scale(0.93 1)" class="fib" text-anchor="end">0.764 137.129</text>
<text transform="translate(1433 274) scale(0.93 1)" class="fib" text-anchor="end">100.0 136.180</text>
<text transform="translate(1433 331) scale(0.93 1)" class="fib" text-anchor="end">1.236 135.231</text>
<text transform="translate(1433 422) scale(0.93 1)" class="fib" text-anchor="end">161.8 133.696</text>
<text transform="translate(2.3 768) scale(0.93 1)" style="letter-spacing:0.32px;">1 Aug 2022</text>
<text transform="translate(66.3 768) scale(0.93 1)" style="letter-spacing:0.32px;">3 Aug 00:00</text>
<text transform="translate(130.3 768) scale(0.93 1)" style="letter-spacing:0.32px;">4 Aug 08:00</text>
<text transform="translate(194.3 768) scale(0.93 1)" style="letter-spacing:0.32px;">5 Aug 16:00</text>
<text transform="translate(258.3 768) scale(0.93 1)" style="letter-spacing:0.32px;">9 Aug 00:00</text>
<text transform="translate(322.3 768) scale(0.93 1)" style="letter-spacing:0.32px;">10 Aug 08:00</text>
<text transform="translate(386.3 768) scale(0.93 1)" style="letter-spacing:0.32px;">11 Aug 16:00</text>
<text transform="translate(450.3 768) scale(0.93 1)" style="letter-spacing:0.32px;">15 Aug 00:00</text>
<text transform="translate(514.3 768) scale(0.93 1)" style="letter-spacing:0.32px;">16 Aug 08:00</text>
<text transform="translate(578.3 768) scale(0.93 1)" style="letter-spacing:0.32px;">17 Aug 16:00</text>
<text transform="translate(642.3 768) scale(0.93 1)" style="letter-spacing:0.32px;">19 Aug 00:00</text>
<text transform="translate(706.3 768) scale(0.93 1)" style="letter-spacing:0.32px;">22 Aug 08:00</text>
<text transform="translate(770.3 768) scale(0.93 1)" style="letter-spacing:0.32px;">23 Aug 16:00</text>
<text transform="translate(834.3 768) scale(0.93 1)" style="letter-spacing:0.32px;">25 Aug 00:00</text>
<text transform="translate(898.3 768) scale(0.93 1)" style="letter-spacing:0.32px;">26 Aug 08:00</text>
<text transform="translate(962.3 768) scale(0.93 1)" style="letter-spacing:0.32px;">29 Aug 16:00</text>
<text transform="translate(1026.3 768) scale(0.93 1)" style="letter-spacing:0.32px;">31 Aug 00:00</text>
<text transform="translate(1090.3 768) scale(0.93 1)" style="letter-spacing:0.32px;">1 Sep 08:00</text>
</svg></body></html>
